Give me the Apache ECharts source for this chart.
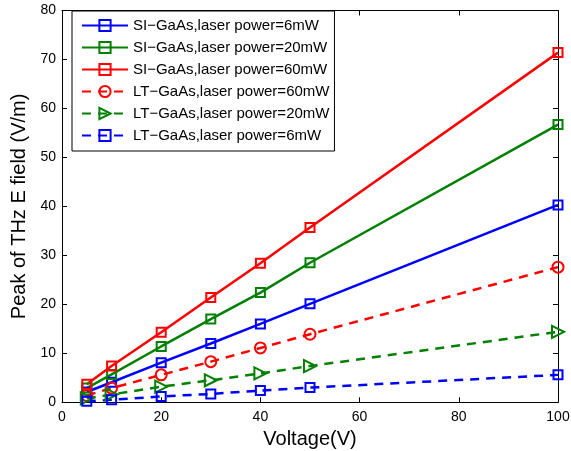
<!DOCTYPE html>
<html>
<head>
<meta charset="utf-8">
<script src="https://cdn.jsdelivr.net/npm/echarts@6/dist/echarts.min.js"></script>
<style>
  html, body { margin: 0; padding: 0; background: #fff; }
  #chart { width: 571px; height: 451px; }
</style>
</head>
<body>
<div id="chart"></div>
<script>
// Bias voltage (V)
const voltage = [5, 10, 20, 30, 40, 50, 100];

// Peak THz E field (V/m) for each sample / pump power
const siGaAs6mW  = [2.1, 4.1, 8.1, 12.0, 16.0, 20.1, 40.3];
const siGaAs20mW = [2.9, 5.7, 11.4, 17.0, 22.4, 28.5, 56.7];
const siGaAs60mW = [3.7, 7.4, 14.3, 21.4, 28.4, 35.7, 71.4];
const ltGaAs60mW = [1.4, 2.9, 5.6, 8.3, 11.1, 13.9, 27.6];
const ltGaAs20mW = [0.8, 1.6, 3.2, 4.5, 5.9, 7.4, 14.4];
const ltGaAs6mW  = [0.2, 0.5, 1.2, 1.7, 2.4, 3.0, 5.6];

const seriesNames = [
  'SI\u2212GaAs,laser power=6mW',
  'SI\u2212GaAs,laser power=20mW',
  'SI\u2212GaAs,laser power=60mW',
  'LT\u2212GaAs,laser power=60mW',
  'LT\u2212GaAs,laser power=20mW',
  'LT\u2212GaAs,laser power=6mW'
];

const xTicks = { min: 0, max: 100, interval: 20 };
const yTicks = { min: 0, max: 80, interval: 10 };

const FONT = 'Liberation Sans, Arial, sans-serif';
const BLUE = '#0000ff', GREEN = '#008000', RED = '#ff0000';

function pairs(ys) { return voltage.map((v, i) => [v, ys[i]]); }

function makeSeries(name, ys, color, dashed, symbol, size, rotate) {
  return {
    name: name,
    type: 'line',
    data: pairs(ys),
    symbol: symbol,
    symbolSize: size,
    symbolRotate: rotate || 0,
    showAllSymbol: true,
    lineStyle: { color: color, width: 2.5, type: dashed ? [9, 7] : 'solid' },
    itemStyle: { color: 'rgba(255,255,255,0)', borderColor: color, borderWidth: 2 },
    emphasis: { disabled: true },
    animation: false,
    z: 3
  };
}

const chart = echarts.init(document.getElementById('chart'), null, { renderer: 'canvas' });

const axisLine = { show: true, onZero: false, lineStyle: { color: '#000', width: 1 } };
const axisTick = { show: true, inside: true, length: 5, lineStyle: { color: '#000', width: 1 } };

chart.setOption({
  backgroundColor: '#fff',
  animation: false,
  textStyle: { fontFamily: FONT },
  grid: {
    left: 62, right: 13, top: 10.5, bottom: 48.7,
    containLabel: false, outerBoundsMode: 'none'
  },
  legend: {
    data: seriesNames,
    orient: 'vertical',
    left: 72,
    top: 11,
    backgroundColor: '#fff',
    borderColor: '#000',
    borderWidth: 1,
    padding: [7, 5, 8, 9],
    itemWidth: 46,
    itemHeight: 14,
    itemGap: 7,
    textStyle: { fontFamily: FONT, fontSize: 15, color: '#000' },
    selectedMode: false
  },
  xAxis: [
    {
      type: 'value', min: xTicks.min, max: xTicks.max, interval: xTicks.interval,
      position: 'bottom',
      name: 'Voltage(V)', nameLocation: 'middle', nameGap: 24,
      nameTextStyle: { fontFamily: FONT, fontSize: 20, color: '#000' },
      axisLine: axisLine, axisTick: axisTick,
      axisLabel: { color: '#000', fontSize: 14, fontFamily: FONT, margin: 8 },
      splitLine: { show: false }
    },
    {
      type: 'value', min: xTicks.min, max: xTicks.max, interval: xTicks.interval,
      position: 'top',
      axisLine: axisLine, axisTick: axisTick,
      axisLabel: { show: false }, splitLine: { show: false }
    }
  ],
  yAxis: [
    {
      type: 'value', min: yTicks.min, max: yTicks.max, interval: yTicks.interval,
      position: 'left',
      name: 'Peak of THz E field (V/m)', nameLocation: 'middle', nameGap: 30,
      nameTextStyle: { fontFamily: FONT, fontSize: 20, color: '#000' },
      axisLine: axisLine, axisTick: axisTick,
      axisLabel: { color: '#000', fontSize: 14, fontFamily: FONT, margin: 6 },
      splitLine: { show: false }
    },
    {
      type: 'value', min: yTicks.min, max: yTicks.max, interval: yTicks.interval,
      position: 'right',
      axisLine: axisLine, axisTick: axisTick,
      axisLabel: { show: false }, splitLine: { show: false }
    }
  ],
  series: [
    makeSeries(seriesNames[0], siGaAs6mW,  BLUE,  false, 'rect', 9),
    makeSeries(seriesNames[1], siGaAs20mW, GREEN, false, 'rect', 9),
    makeSeries(seriesNames[2], siGaAs60mW, RED,   false, 'rect', 9),
    makeSeries(seriesNames[3], ltGaAs60mW, RED,   true,  'circle', 11),
    makeSeries(seriesNames[4], ltGaAs20mW, GREEN, true,  'triangle', 12, -90),
    makeSeries(seriesNames[5], ltGaAs6mW,  BLUE,  true,  'rect', 9)
  ]
});
</script>
</body>
</html>
